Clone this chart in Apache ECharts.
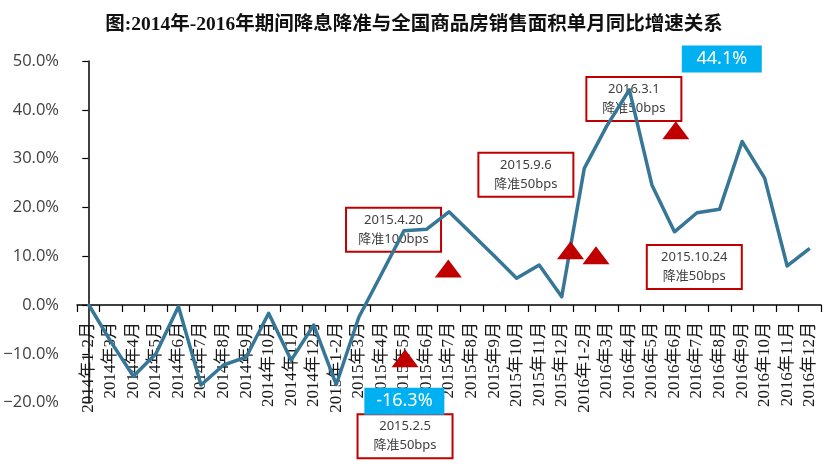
<!DOCTYPE html>
<html>
<head>
<meta charset="utf-8">
<script src="https://cdn.jsdelivr.net/npm/echarts@6/dist/echarts.min.js"></script>
<style>html,body{margin:0;padding:0;background:#fff;}#c{width:828px;height:464px;}</style>
</head>
<body>
<div id="c"></div>
<script>
const titleText = '图:2014年-2016年期间降息降准与全国商品房销售面积单月同比增速关系';
const categories = ['2014年1-2月','2014年3月','2014年4月','2014年5月','2014年6月','2014年7月','2014年8月','2014年9月','2014年10月','2014年11月','2014年12月',
  '2015年1-2月','2015年3月','2015年4月','2015年5月','2015年6月','2015年7月','2015年8月','2015年9月','2015年10月','2015年11月','2015年12月',
  '2016年1-2月','2016年3月','2016年4月','2016年5月','2016年6月','2016年7月','2016年8月','2016年9月','2016年10月','2016年11月','2016年12月'];
const growth = [0.2,-7.5,-14.6,-10.0,-0.3,-16.4,-12.3,-10.7,-1.7,-11.3,-4.1,
  -16.3,-2.5,6.3,15.2,15.5,19.1,14.6,10.1,5.5,8.2,1.7,
  28.0,36.7,44.1,24.6,15.0,18.9,19.6,33.5,26.0,8.0,11.6];
// triangle markers: [fractional category position, value]
const triangles = [[14.05,-10.9],[15.97,7.5],[21.39,11.2],[22.52,10.2],[26.06,35.8]];
// policy annotation boxes: [fractional category position, value, text]
const notes = [
  [13.54,15.4,'2015.4.20\n降准100bps'],
  [19.41,26.7,'2015.9.6\n降准50bps'],
  [24.2,42.2,'2016.3.1\n降准50bps'],
  [26.88,7.8,'2015.10.24\n降准50bps'],
  [14.05,-26.9,'2015.2.5\n降准50bps']
];
// highlighted values: [fractional category position, value, text]
const highlights = [[14.02,-19.7,'-16.3%'],[28.1,50.4,'44.1%']];
const yMin = -20, yMax = 50, yStep = 10;

const G = {left:77,right:7,top:61,bottom:61.4};
const chart = echarts.init(document.getElementById('c'), null, {renderer:'canvas'});
chart.setOption({
  animation:false,
  backgroundColor:'#fff',
  title:{text:titleText,left:'center',top:10,textStyle:{fontFamily:'"Liberation Serif","Noto Sans CJK SC"',fontWeight:'bold',fontSize:19.5,color:'#111'}},
  grid:[
    {left:G.left,right:G.right,top:G.top,bottom:G.bottom,containLabel:false,outerBoundsMode:'none'},
    {left:G.left,right:G.right,top:G.top,bottom:464-305,containLabel:false,outerBoundsMode:'none'}
  ],
  xAxis:[{
    type:'category',data:categories,boundaryGap:true,gridIndex:0,show:false
  },{
    type:'value',min:-0.5,max:32.5,show:false,gridIndex:0
  },{
    type:'category',data:categories,boundaryGap:true,gridIndex:1,position:'bottom',
    axisLine:{onZero:false,lineStyle:{color:'#000',width:1.5}},
    axisTick:{show:true,length:7,inside:false,lineStyle:{color:'#000',width:1.2}},
    axisLabel:{rotate:90,interval:0,margin:17,fontSize:17,color:'#1a1a1a',fontFamily:'"Liberation Serif","Noto Sans CJK SC"',hideOverlap:false},
    splitLine:{show:false}
  }],
  yAxis:[{
    type:'value',min:yMin,max:yMax,interval:yStep,gridIndex:0,
    axisLine:{show:true,lineStyle:{color:'#000',width:1.5}},
    axisTick:{show:true,length:6,lineStyle:{color:'#000',width:1.2}},
    axisLabel:{margin:18,fontSize:16.5,color:'#404040',fontFamily:'"Open Sans","Noto Sans"',
      formatter:v=>(v<0?'\u2212':'')+Math.abs(v).toFixed(1)+'%'},
    splitLine:{show:false}
  },{
    type:'value',gridIndex:1,show:false,min:0,max:1
  }],
  series:[
    {type:'scatter',xAxisIndex:1,yAxisIndex:0,clip:false,z:2,symbol:'rect',symbolSize:1,
      itemStyle:{color:'rgba(0,0,0,0)',opacity:1},
      data:notes.map(n=>({value:[n[0],n[1]],name:n[2]})),
      label:{show:true,position:'inside',formatter:p=>p.name,opacity:1,
        fontSize:13,lineHeight:19,color:'#404040',fontFamily:'"Noto Sans","Noto Sans CJK SC"',
        width:95,align:'center',verticalAlign:'middle',padding:[3,0,3,0],
        backgroundColor:'rgba(255,255,255,0)',borderColor:'#c00000',borderWidth:1}},
    {type:'line',data:growth,xAxisIndex:0,yAxisIndex:0,symbol:'none',z:3,
      lineStyle:{color:'#367696',width:3.5,join:'round'}},
    {type:'scatter',xAxisIndex:1,yAxisIndex:0,data:triangles,symbol:'triangle',symbolSize:[27,18],z:4,
      itemStyle:{color:'#c00000',opacity:1}},
    {type:'scatter',xAxisIndex:1,yAxisIndex:0,clip:false,z:5,symbol:'rect',symbolSize:1,
      itemStyle:{color:'rgba(0,0,0,0)',opacity:1},
      data:highlights.map(n=>({value:[n[0],n[1]],name:n[2]})),
      label:{show:true,position:'inside',formatter:p=>p.name,opacity:1,
        fontSize:18,lineHeight:27,color:'#fff',fontFamily:'"Noto Sans","Open Sans"',
        width:80,align:'center',verticalAlign:'middle',padding:0,
        backgroundColor:'#00b0f0'}}
  ]
});
</script>
</body>
</html>
